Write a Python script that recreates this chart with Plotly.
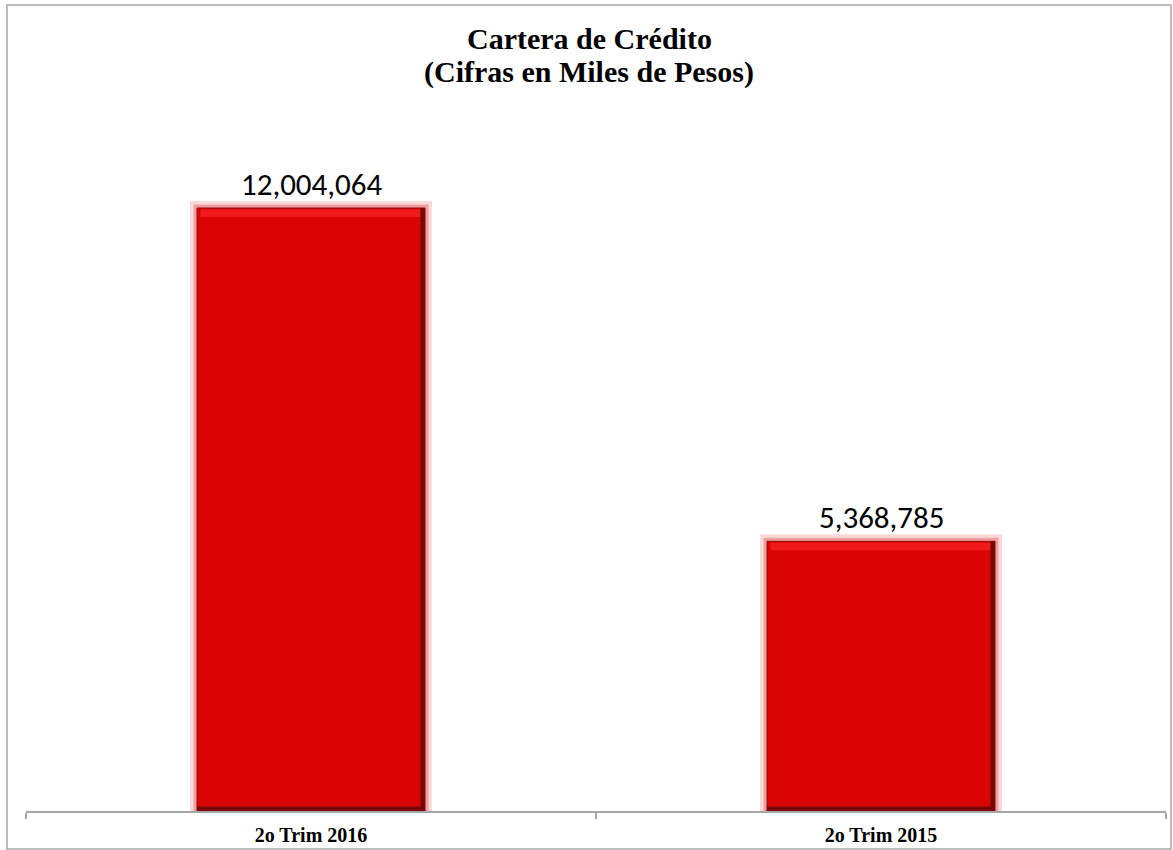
import plotly.graph_objects as go

categories = ["2o Trim 2016", "2o Trim 2015"]
values = [12004064, 5368785]
title_line1 = "Cartera de Crédito"
title_line2 = "(Cifras en Miles de Pesos)"

Y_MAX = 13756000
BAR_W = 0.40
RED = "#D90404"

fig = go.Figure()

# soft outer glow
fig.add_trace(go.Bar(x=categories, y=values, width=BAR_W,
                     marker=dict(color="rgba(0,0,0,0)",
                                 line=dict(color="rgba(245,150,150,0.35)", width=14)),
                     hoverinfo="skip", showlegend=False))
fig.add_trace(go.Bar(x=categories, y=values, width=BAR_W,
                     marker=dict(color="rgba(0,0,0,0)",
                                 line=dict(color="rgba(235,110,110,0.55)", width=7)),
                     hoverinfo="skip", showlegend=False))
# main bar
fig.add_trace(go.Bar(x=categories, y=values, width=BAR_W,
                     marker=dict(color=RED, line=dict(color="#8A1010", width=1)),
                     showlegend=False))
# top bevel highlight
hl = 0.15 * 1e6
fig.add_trace(go.Bar(x=categories, y=[hl] * len(values), base=[v - hl - 0.03e6 for v in values],
                     width=BAR_W - 0.012,
                     marker=dict(color="#EF1A1A", line=dict(width=0)),
                     hoverinfo="skip", showlegend=False))
# right dark edge
fig.add_trace(go.Bar(x=categories, y=values, width=0.008, offset=BAR_W / 2 - 0.008,
                     marker=dict(color="#7A0808", line=dict(width=0)),
                     hoverinfo="skip", showlegend=False))
# bottom dark edge
fig.add_trace(go.Bar(x=categories, y=[0.09e6] * len(values), width=BAR_W,
                     marker=dict(color="#7A0808", line=dict(width=0)),
                     hoverinfo="skip", showlegend=False))

value_labels = [dict(x=c, y=v, xref="x", yref="y", text=f"{v:,}", showarrow=False,
                     xanchor="center", yanchor="bottom", yshift=3,
                     font=dict(family="Carlito, Calibri, Open Sans", size=31, color="#000000"))
                for c, v in zip(categories, values)]

fig.update_layout(
    width=1173, height=850,
    margin=dict(l=26, r=7, t=120, b=39),
    paper_bgcolor="white", plot_bgcolor="white",
    barmode="overlay",
    xaxis=dict(type="category", showline=True, linecolor="#A6A6A6", linewidth=1.5,
               ticks="outside", ticklen=6, tickcolor="#A6A6A6", tickwidth=1.5,
               tickson="boundaries", showgrid=False, zeroline=False,
               ticklabelstandoff=5, automargin=False,
               tickfont=dict(family="Liberation Serif", size=20, color="#000000", weight="bold")),
    yaxis=dict(range=[0, Y_MAX], visible=False, showgrid=False, zeroline=False),
    annotations=value_labels + [
        dict(text="<b>" + title_line1 + "</b>", xref="paper", yref="paper", x=0.4939, y=1.1173,
             xanchor="center", yanchor="middle", showarrow=False,
             font=dict(family="Liberation Serif", size=30, color="#000000")),
        dict(text="<b>" + title_line2 + "</b>", xref="paper", yref="paper", x=0.4939, y=1.0695,
             xanchor="center", yanchor="middle", showarrow=False,
             font=dict(family="Liberation Serif", size=30, color="#000000")),
    ],
    shapes=[dict(type="rect", xref="paper", yref="paper",
                 x0=-0.0167, x1=1.0044, y0=-0.0550, y1=1.1664,
                 line=dict(color="#A6A6A6", width=1.5), fillcolor="rgba(0,0,0,0)")],
)

fig.write_html("out.html", config={"displayModeBar": False},
               post_script="document.body.style.margin='0';")
